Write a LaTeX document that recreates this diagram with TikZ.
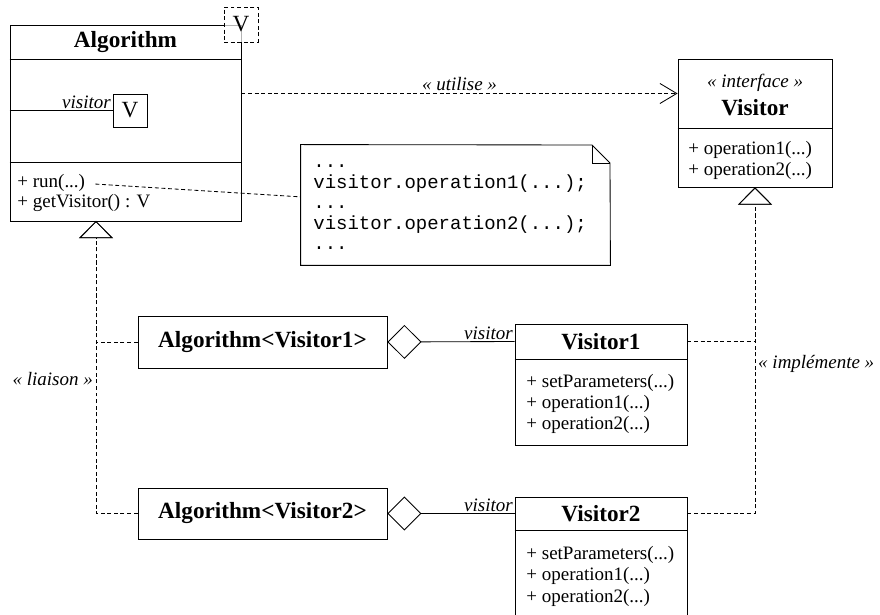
\documentclass[tikz,border=0pt]{standalone}
\usepackage{fontspec}
\setmainfont{Liberation Serif}
\setmonofont{Liberation Mono}
\usetikzlibrary{arrows.meta,positioning,fit}

\begin{document}
\begin{tikzpicture}[
    x=0.025cm, y=-0.025cm,
    line width=0.6pt,
    classbox/.style={draw, inner sep=0pt},
    part/.style={inner sep=0pt},
    title/.style={inner sep=0pt, font=\fontsize{16.5}{19}\selectfont\bfseries},
    param/.style={inner sep=0pt, font=\fontsize{16.5}{19}\selectfont},
    members/.style={anchor=base west, align=left, inner sep=0pt,
                    font=\fontsize{13.5}{15}\selectfont},
    stereo/.style={inner sep=2pt, font=\fontsize{13.5}{16}\selectfont\itshape},
    link/.style={dash pattern=on 2.8pt off 1.9pt},
    dep/.style={link, -{Straight Barb[length=0.42cm, width=0.5cm]}},
    realize/.style={link, -{Triangle[open, length=0.43cm, width=0.85cm]}},
    assoc/.style={{Diamond[open, length=0.85cm, width=0.85cm]}-}
  ]
    \useasboundingbox (0,0) rectangle (880,615);
    \clip (0,0) rectangle (880,615);

    \node[classbox, fit={(10,25) (241,221)}] (algo) {};
    \node[part, fit={(10,25) (241,59)}] (algohead) {};
    \node[part, fit={(10,163) (241,221)}] (algoops) {};
    \node[title] (algotitle) at (algohead) {Algorithm};
    \draw (algohead.south west) -- (algohead.south east);
    \draw (algoops.north west) -- (algoops.north east);
    \node[draw, link, fill=white, fill opacity=0.7, part, fit={(224,7) (258,42)}] (tparam) {};
    \node[param] (tparamname) at (tparam) {V};
    \node[classbox, fit={(113,94) (147,127)}] (vbox) {};
    \node[param] (vboxname) at (vbox) {V};
    \draw (algo.west |- vbox.west) --
      node[pos=1, above left, stereo, inner sep=1pt] {visitor} (vbox.west);
    \node[members] (run) at (17,188) {+ run(...)};
    \node[members] (getter) at (17,208) {+ getVisitor() : V};

    \node[classbox, fit={(678,59) (832,187)}] (vis) {};
    \node[part, fit={(678,59) (832,128)}] (vishead) {};
    \node[stereo] (visstereo) at (755,83) {« interface »};
    \node[title] (vistitle) at (755,108) {Visitor};
    \draw (vishead.south west) -- (vishead.south east);
    \node[members] (visops) at (688,176) {+ operation1(...)\\+ operation2(...)};

    \node[part, fit={(301,145) (610,265)}] (note) {};
    \draw (note.north west) -- (592,145) -- (610,163) -- (note.south east)
      -- (note.south west) -- cycle;
    \draw (592,145) |- (610,163);
    \node[anchor=base west, align=left, inner sep=0pt,
          font=\fontsize{13.5}{14.6}\selectfont\ttfamily] (code) at (313,250)
      {...\\visitor.operation1(...);\\...\\visitor.operation2(...);\\...};

    \node[classbox, fit={(138,316) (387,368)}] (bound1) {};
    \node[title] (bound1name) at (bound1) {Algorithm<Visitor1>};
    \node[classbox, fit={(138,488) (387,539)}] (bound2) {};
    \node[title] (bound2name) at (bound2) {Algorithm<Visitor2>};

    \node[classbox, fit={(515,324) (687,445)}] (v1) {};
    \node[part, fit={(515,324) (687,359)}] (v1head) {};
    \node[title] (v1title) at (v1head) {Visitor1};
    \draw (v1head.south west) -- (v1head.south east);
    \node[members] (v1ops) at (526,430)
      {+ setParameters(...)\\+ operation1(...)\\+ operation2(...)};

    \node[classbox, fit={(515,497) (687,620)}] (v2) {};
    \node[part, fit={(515,497) (687,530)}] (v2head) {};
    \node[title] (v2title) at (v2head) {Visitor2};
    \draw (v2head.south west) -- (v2head.south east);
    \node[members] (v2ops) at (526,602)
      {+ setParameters(...)\\+ operation1(...)\\+ operation2(...)};

    \coordinate (algobase) at (96,221);

    \draw[link, shorten <=0.25cm] (run.east) -- (note.177);
    \draw[dep] (vishead.west -| algo.east) --
      node[above, stereo] {« utilise »} (vishead.west);
    \draw[assoc] (bound1.east) --
      node[pos=1, above left, stereo, inner sep=1pt] {visitor} (v1head.west);
    \draw[assoc] (bound2.east) --
      node[pos=1, above left, stereo, inner sep=1pt] {visitor} (v2head.west);
    \draw[realize] (v1head.east) -| (vis.south);
    \draw[realize] (v2head.east) -|
      node[pos=0.73, right, stereo] {« implémente »} (vis.south);
    \draw[realize] (bound1.west) -| (algobase);
    \draw[realize] (bound2.west) -|
      node[pos=0.73, left, stereo] {« liaison »} (algobase);
  \end{tikzpicture}
\end{document}
